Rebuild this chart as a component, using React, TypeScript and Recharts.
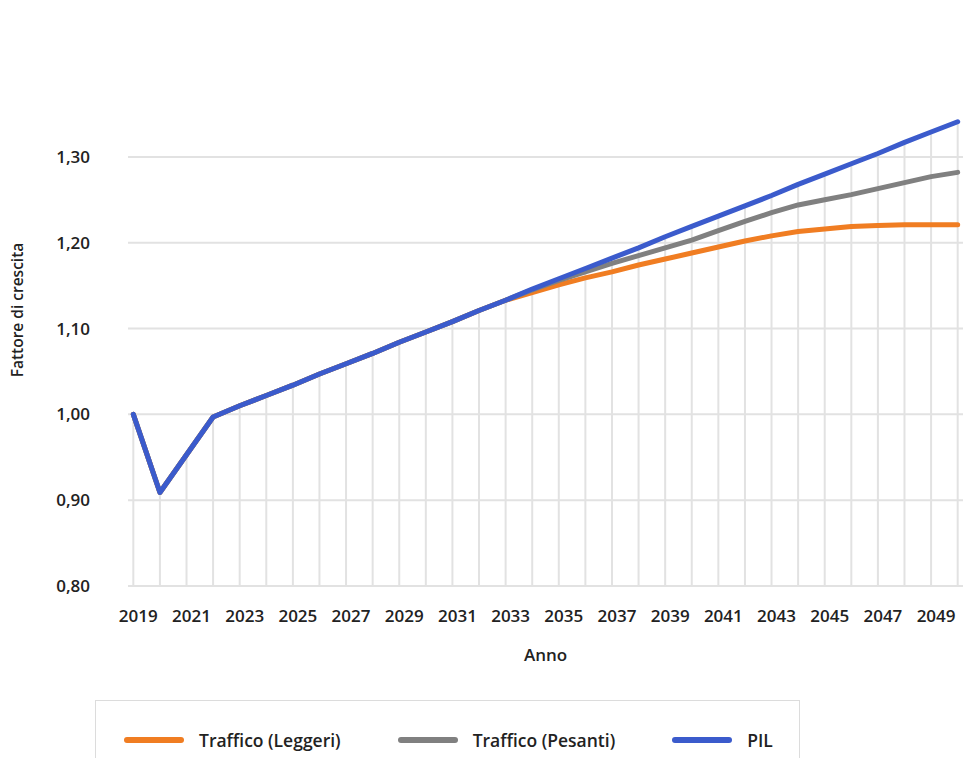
import React from 'react';
import { ComposedChart, Line, XAxis, YAxis, CartesianGrid, ReferenceLine } from 'recharts';

const years = [2019, 2020, 2021, 2022, 2023, 2024, 2025, 2026, 2027, 2028, 2029, 2030, 2031, 2032, 2033, 2034, 2035, 2036, 2037, 2038, 2039, 2040, 2041, 2042, 2043, 2044, 2045, 2046, 2047, 2048, 2049, 2050];
const pil = [1.000, 0.909, 0.953, 0.997, 1.010, 1.022, 1.034, 1.047, 1.059, 1.071, 1.084, 1.096, 1.108, 1.121, 1.133, 1.146, 1.158, 1.170, 1.182, 1.194, 1.207, 1.219, 1.231, 1.243, 1.255, 1.268, 1.280, 1.292, 1.304, 1.317, 1.329, 1.341];
const leggeri = [1.000, 0.909, 0.953, 0.997, 1.010, 1.022, 1.034, 1.047, 1.059, 1.071, 1.084, 1.096, 1.108, 1.121, 1.133, 1.142, 1.151, 1.159, 1.166, 1.174, 1.181, 1.188, 1.195, 1.202, 1.208, 1.213, 1.216, 1.219, 1.220, 1.221, 1.221, 1.221];
const pesanti = [1.000, 0.909, 0.953, 0.997, 1.010, 1.022, 1.034, 1.047, 1.059, 1.071, 1.084, 1.096, 1.108, 1.121, 1.133, 1.145, 1.156, 1.166, 1.176, 1.185, 1.194, 1.203, 1.214, 1.225, 1.235, 1.244, 1.250, 1.256, 1.263, 1.270, 1.277, 1.282];

const xTicks = [2019, 2021, 2023, 2025, 2027, 2029, 2031, 2033, 2035, 2037, 2039, 2041, 2043, 2045, 2047, 2049];
const yTicks = [0.8, 0.9, 1.0, 1.1, 1.2, 1.3];

const seriesKeys = ['leggeri', 'pesanti', 'pil'];
const seriesNames = ['Traffico (Leggeri)', 'Traffico (Pesanti)', 'PIL'];
const seriesColors = ['#f07d22', '#808080', '#3b5bcc'];

const data = years.map((y, i) => ({ year: y, pil: pil[i], leggeri: leggeri[i], pesanti: pesanti[i] }));

const FONT = '"Open Sans", sans-serif';
const TEXT = '#222';

export default function App() {
  return (
    <div style={{ position: 'absolute', left: 0, top: 0, width: 963, height: 758, overflow: 'hidden', background: '#fff', fontFamily: FONT }}>
      <ComposedChart width={963} height={758} data={data} margin={{ top: 114, right: 0, bottom: 0, left: 0 }}>
        <CartesianGrid vertical={false} horizontalValues={yTicks} stroke="#e2e2e2" strokeWidth={2} />
        {years.map((y, i) => (
          <ReferenceLine key={y} segment={[{ x: y, y: 0.8 }, { x: y, y: pil[i] }]} stroke="#e2e2e2" strokeWidth={2} />
        ))}
        <XAxis
          dataKey="year"
          type="number"
          domain={[2018.8, 2050.2]}
          ticks={xTicks}
          axisLine={false}
          tickLine={false}
          tickSize={0}
          tickMargin={24}
          interval={0}
          tick={{ fill: TEXT, fontSize: 17, fontWeight: 600, fontFamily: FONT, dx: 5 }}
          height={172}
          label={{
            content: (props: any) => {
              const vb = props.viewBox;
              return (
                <text x={vb.x + vb.width / 2} y={vb.y + 75} textAnchor="middle" fill={TEXT} fontSize={17} fontWeight={600} fontFamily={FONT}>
                  Anno
                </text>
              );
            },
          }}
        />
        <YAxis
          type="number"
          domain={[0.8, 1.35]}
          ticks={yTicks}
          width={128}
          axisLine={false}
          tickLine={false}
          tickSize={0}
          tickMargin={38}
          tickFormatter={(v: number) => v.toFixed(2).replace('.', ',')}
          tick={{ fill: TEXT, fontSize: 17, fontWeight: 600, fontFamily: FONT }}
          label={{
            content: (props: any) => {
              const vb = props.viewBox;
              const cx = vb.x + 23;
              const cy = vb.y + vb.height / 2 - 40;
              return (
                <text x={cx} y={cy} transform={`rotate(-90 ${cx} ${cy})`} textAnchor="middle" fill={TEXT} fontSize={15.5} fontWeight={600} fontFamily={FONT}>
                  Fattore di crescita
                </text>
              );
            },
          }}
        />
        {seriesKeys.map((k, i) => (
          <Line
            key={k}
            type="linear"
            dataKey={k}
            name={seriesNames[i]}
            stroke={seriesColors[i]}
            strokeWidth={5}
            strokeLinecap="round"
            strokeLinejoin="round"
            dot={false}
            activeDot={false}
            isAnimationActive={false}
          />
        ))}
      </ComposedChart>
      <div
        style={{
          position: 'absolute',
          left: 95,
          top: 700,
          width: 705,
          height: 90,
          border: '1.5px solid #dcdcdc',
          boxSizing: 'border-box',
          display: 'flex',
          alignItems: 'flex-start',
          paddingLeft: 28,
          paddingTop: 27,
          whiteSpace: 'nowrap',
        }}
      >
        {seriesKeys.map((k, i) => (
          <div key={k} style={{ display: 'flex', alignItems: 'center', marginRight: 57, flexShrink: 0 }}>
            <div style={{ width: 60, height: 6, borderRadius: 3, background: seriesColors[i], marginRight: 15, flexShrink: 0 }} />
            <span style={{ fontSize: 17.5, fontWeight: 600, color: TEXT, lineHeight: '24px', whiteSpace: 'nowrap' }}>{seriesNames[i]}</span>
          </div>
        ))}
      </div>
    </div>
  );
}
